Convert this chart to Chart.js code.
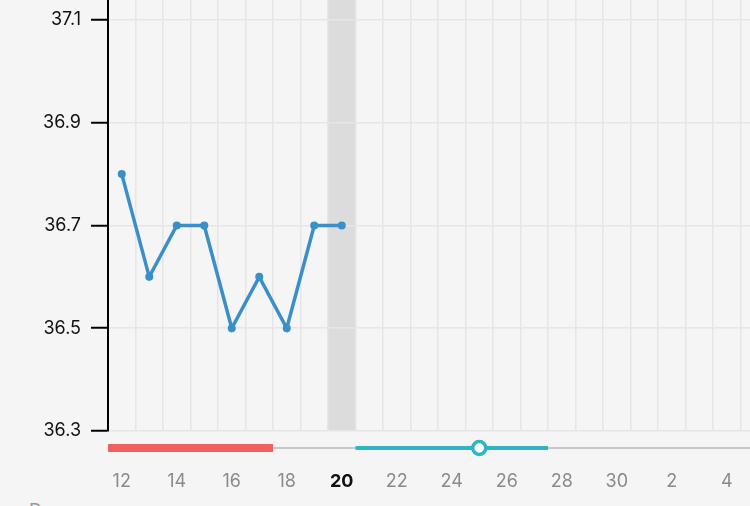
<!DOCTYPE html>
<html>
<head>
<meta charset="utf-8">
<script src="https://cdn.jsdelivr.net/npm/chart.js@4/dist/chart.umd.min.js"></script>
<style>
  html, body { margin: 0; padding: 0; background: #f5f5f5; overflow: hidden; width: 750px; height: 506px; }
  #wrap { position: absolute; left: 0; top: -4px; width: 772px; height: 494px; }
  #foot { position: absolute; left: 29px; top: 500px; font: 18px Inter, sans-serif; color: #9a9a9a; }
</style>
</head>
<body>
<div id="wrap"><canvas id="c"></canvas></div>
<div id="foot">D</div>
<script>
// Data
const days = ['12','13','14','15','16','17','18','19','20','21','22','23','24','25','26','27','28','29','30','1','2','3','4','5'];
const temps = [36.8, 36.6, 36.7, 36.7, 36.5, 36.6, 36.5, 36.7, 36.7, null, null, null, null, null, null, null, null, null, null, null, null, null, null, null];
const yTicks = [36.3, 36.5, 36.7, 36.9, 37.1];
const today = '20';
const periodDays = ['12', '17'];
const fertileDays = ['21', '27'];
const ovulationDay = '25';

const FONT = 'Inter, "Noto Sans", sans-serif';

const cyclePlugin = {
  id: 'cycle',
  beforeDraw(chart) {
    const x = chart.scales.x, a = chart.chartArea, ctx = chart.ctx;
    const half = (x.getPixelForValue(1) - x.getPixelForValue(0)) / 2;
    const i = days.indexOf(today);
    ctx.save();
    ctx.fillStyle = '#dcdcdc';
    ctx.fillRect(x.getPixelForValue(i) - half, 0, half * 2, a.bottom);
    ctx.restore();
  },
  afterDraw(chart) {
    const x = chart.scales.x, a = chart.chartArea, ctx = chart.ctx;
    const half = (x.getPixelForValue(1) - x.getPixelForValue(0)) / 2;
    const start = d => x.getPixelForValue(days.indexOf(d)) - half;
    const end = d => x.getPixelForValue(days.indexOf(d)) + half;
    const y = a.bottom + 17;
    ctx.save();
    // baseline
    ctx.strokeStyle = '#c8c8c8';
    ctx.lineWidth = 2;
    ctx.beginPath(); ctx.moveTo(a.left, y); ctx.lineTo(chart.width, y); ctx.stroke();
    // period
    ctx.fillStyle = '#f25f5f';
    ctx.fillRect(start(periodDays[0]), y - 4, end(periodDays[1]) - start(periodDays[0]), 8);
    // fertile window
    ctx.strokeStyle = '#2fb3c6';
    ctx.lineWidth = 4;
    ctx.beginPath(); ctx.moveTo(start(fertileDays[0]), y); ctx.lineTo(end(fertileDays[1]), y); ctx.stroke();
    // ovulation
    const ox = x.getPixelForValue(days.indexOf(ovulationDay));
    ctx.fillStyle = '#ffffff';
    ctx.lineWidth = 3.5;
    ctx.beginPath(); ctx.arc(ox, y, 6.5, 0, Math.PI * 2); ctx.fill(); ctx.stroke();
    ctx.restore();
  }
};

new Chart(document.getElementById('c'), {
  type: 'line',
  data: {
    labels: days,
    datasets: [{
      data: temps,
      borderColor: '#3a8fc8',
      backgroundColor: '#3a8fc8',
      borderWidth: 3.5,
      pointRadius: 4,
      pointBackgroundColor: '#3a8fc8',
      pointBorderWidth: 0,
      tension: 0,
      clip: false
    }]
  },
  options: {
    responsive: true,
    maintainAspectRatio: false,
    animation: false,
    layout: { padding: 0 },
    plugins: { legend: { display: false }, tooltip: { enabled: false } },
    scales: {
      x: {
        offset: true,
        border: { display: false },
        grid: { offset: true, color: '#e6e6e6', lineWidth: 1.5, drawTicks: false },
        ticks: {
          autoSkip: false,
          maxRotation: 0,
          padding: 40,
          callback: (v, i) => (i % 2 === 0 ? days[i] : ''),
          color: c => (days[c.index] === today ? '#111111' : '#8a8a8a'),
          font: c => ({ family: FONT, size: 18, weight: days[c.index] === today ? 'bold' : 'normal' })
        },
        afterFit: s => { s.height = 59; s.paddingLeft = 0; s.paddingRight = 0; }
      },
      y: {
        min: 36.3,
        max: 37.1389,
        border: { display: true, color: '#000', width: 2 },
        grid: { color: '#e6e6e6', lineWidth: 1.5, tickColor: '#000', tickWidth: 2, tickLength: 17 },
        afterBuildTicks: s => { s.ticks = yTicks.map(v => ({ value: v })); },
        ticks: {
          padding: 10,
          color: '#111',
          font: { family: FONT, size: 18 },
          callback: v => v.toFixed(1)
        },
        afterFit: s => { s.width = 108; s.paddingTop = 0; s.paddingBottom = 0; }
      }
    }
  },
  plugins: [cyclePlugin]
});
</script>
</body>
</html>
